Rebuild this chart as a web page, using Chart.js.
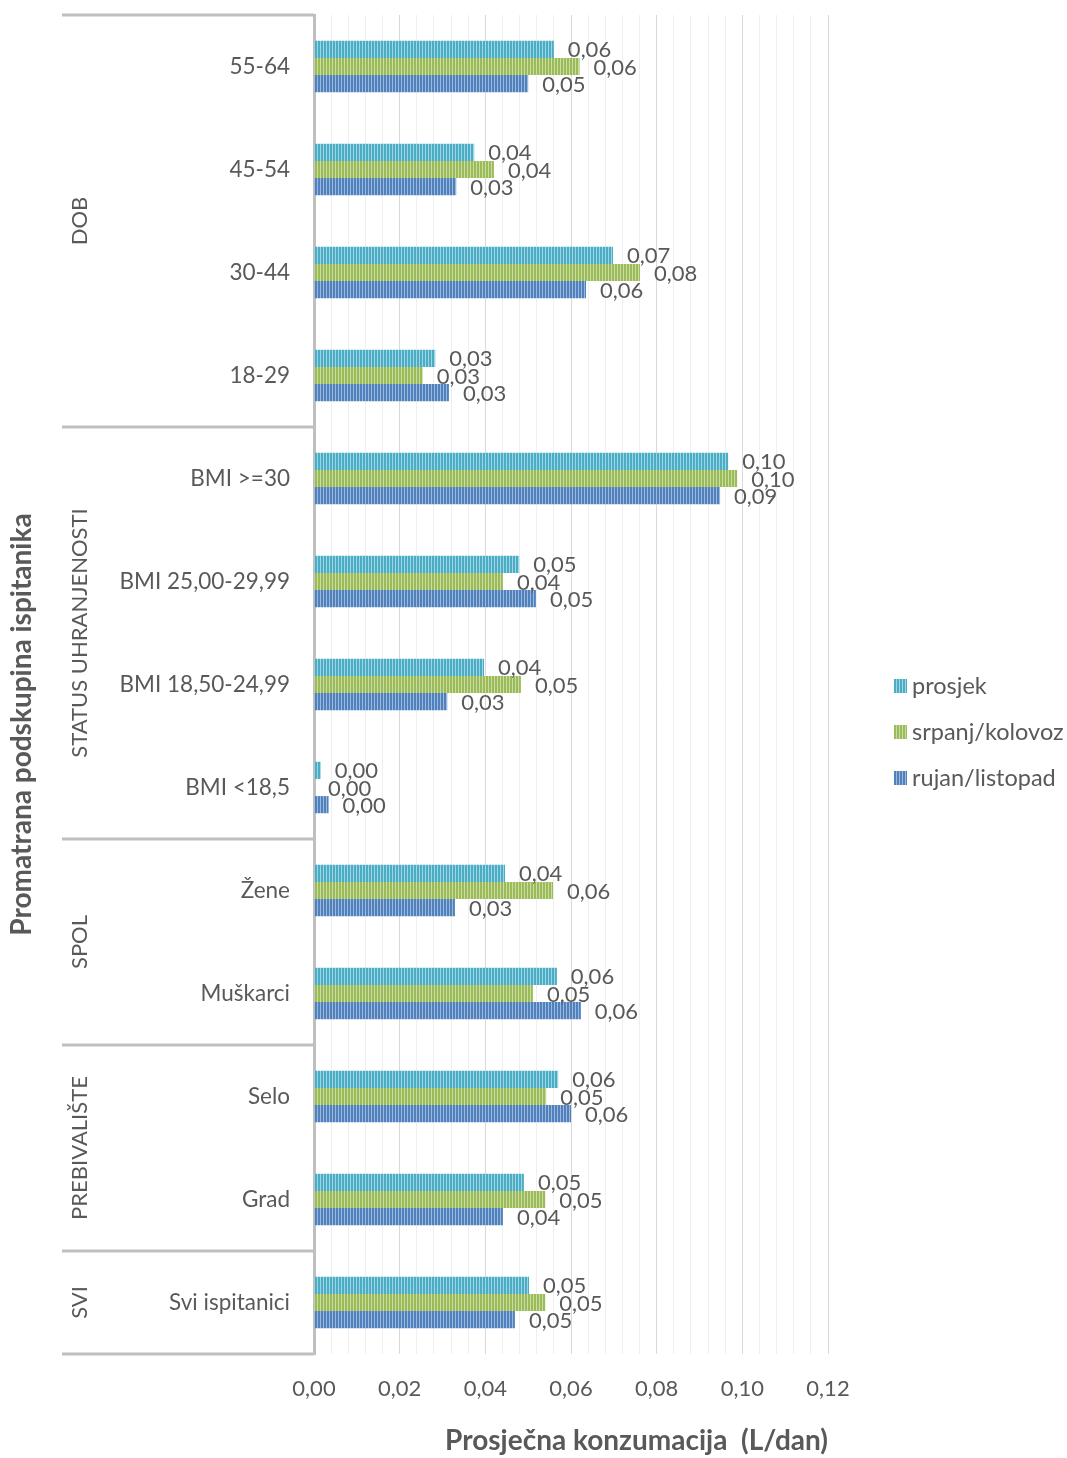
<!DOCTYPE html>
<html>
<head>
<meta charset="utf-8">
<script src="https://cdn.jsdelivr.net/npm/chart.js@4/dist/chart.umd.min.js"></script>
<style>
  body { margin: 0; background: #fff; }
  canvas { display: block; }
</style>
</head>
<body>
<canvas id="chart" width="1067" height="1458"></canvas>
<script>
const categories = ["55-64", "45-54", "30-44", "18-29", "BMI >=30", "BMI 25,00-29,99", "BMI 18,50-24,99", "BMI <18,5", "Žene", "Muškarci", "Selo", "Grad", "Svi ispitanici"];
const prosjek = [0.0560, 0.0374, 0.0698, 0.0283, 0.0967, 0.0479, 0.0397, 0.0016, 0.0446, 0.0567, 0.0570, 0.0490, 0.0502];
const srpanjKolovoz = [0.0620, 0.0420, 0.0761, 0.0254, 0.0988, 0.0441, 0.0483, 0.0000, 0.0558, 0.0511, 0.0542, 0.0540, 0.0540];
const rujanListopad = [0.0500, 0.0332, 0.0635, 0.0315, 0.0948, 0.0518, 0.0311, 0.0034, 0.0329, 0.0623, 0.0600, 0.0441, 0.0469];
const seriesNames = ["prosjek", "srpanj/kolovoz", "rujan/listopad"];
const groups = [
  { name: "DOB", from: 0, to: 3 },
  { name: "STATUS UHRANJENOSTI", from: 4, to: 7 },
  { name: "SPOL", from: 8, to: 9 },
  { name: "PREBIVALIŠTE", from: 10, to: 11 },
  { name: "SVI", from: 12, to: 12 }
];
const xTickStep = 0.004;

const FONT = "Lato, 'Open Sans', sans-serif";
const TEXT = "#595959";

// striped fill like the excel "vertical lines" pattern
function stripes(base, light) {
  const c = document.createElement("canvas");
  c.width = 3; c.height = 1;
  const g = c.getContext("2d");
  g.fillStyle = base; g.fillRect(0, 0, 3, 1);
  g.fillStyle = light; g.fillRect(2, 0, 1, 1);
  return g.createPattern(c, "repeat");
}
const fills = [
  stripes("#4bacc6", "#9fd6e4"),
  stripes("#9bbb59", "#c9dca3"),
  stripes("#4f81bd", "#9db8dc")
];

const fmt = v => v.toFixed(2).replace(".", ",");

const barLabels = {
  id: "barLabels",
  afterDatasetsDraw(chart) {
    const ctx = chart.ctx;
    ctx.save();
    ctx.font = "22px " + FONT;
    ctx.fillStyle = TEXT;
    ctx.textAlign = "left";
    ctx.textBaseline = "middle";
    chart.data.datasets.forEach((ds, i) => {
      chart.getDatasetMeta(i).data.forEach((bar, j) => {
        ctx.fillText(fmt(ds.data[j]), bar.x + 14, bar.y + 1);
      });
    });
    ctx.restore();
  }
};

const groupAxis = {
  id: "groupAxis",
  afterDraw(chart) {
    const ctx = chart.ctx;
    const y = chart.scales.y;
    const area = chart.chartArea;
    const edge = i => {
      if (i < 0) return area.top;
      if (i >= categories.length - 1) return area.bottom;
      return (y.getPixelForValue(i) + y.getPixelForValue(i + 1)) / 2;
    };
    ctx.save();
    ctx.strokeStyle = "#bfbfbf";
    ctx.lineWidth = 3;
    const cuts = [edge(-1)].concat(groups.map(g => edge(g.to)));
    cuts.forEach(p => {
      ctx.beginPath();
      ctx.moveTo(62, p);
      ctx.lineTo(area.left, p);
      ctx.stroke();
    });
    ctx.fillStyle = TEXT;
    ctx.textAlign = "center";
    ctx.textBaseline = "middle";
    ctx.font = "22px " + FONT;
    groups.forEach(g => {
      const mid = (edge(g.from - 1) + edge(g.to)) / 2;
      ctx.save();
      ctx.translate(80, mid);
      ctx.rotate(-Math.PI / 2);
      ctx.fillText(g.name, 0, 0);
      ctx.restore();
    });
    ctx.font = "bold 28px " + FONT;
    ctx.translate(22, (area.top + area.bottom) / 2 + 40);
    ctx.rotate(-Math.PI / 2);
    ctx.fillText("Promatrana podskupina ispitanika", 0, 0);
    ctx.restore();

    // legend
    ctx.save();
    ctx.font = "23.5px " + FONT;
    ctx.textBaseline = "middle";
    ctx.textAlign = "left";
    chart.data.datasets.forEach((ds, i) => {
      const ly = 686 + i * 46;
      ctx.fillStyle = ds.backgroundColor;
      ctx.fillRect(894, ly - 7, 13, 14);
      ctx.fillStyle = TEXT;
      ctx.fillText(ds.label, 912, ly);
    });
    ctx.restore();
  }
};

new Chart(document.getElementById("chart"), {
  type: "bar",
  data: {
    labels: categories,
    datasets: [
      { label: seriesNames[0], data: prosjek, backgroundColor: fills[0] },
      { label: seriesNames[1], data: srpanjKolovoz, backgroundColor: fills[1] },
      { label: seriesNames[2], data: rujanListopad, backgroundColor: fills[2] }
    ]
  },
  options: {
    indexAxis: "y",
    responsive: false,
    animation: false,
    categoryPercentage: 0.5,
    barPercentage: 1.0,
    layout: { padding: { top: 15, right: 239, bottom: 0, left: 0 } },
    plugins: {
      legend: { display: false },
      tooltip: { enabled: false }
    },
    scales: {
      x: {
        min: 0,
        max: 0.12,
        ticks: {
          stepSize: xTickStep,
          autoSkip: false,
          maxRotation: 0,
          padding: 22,
          color: TEXT,
          font: { family: FONT, size: 22 },
          callback: v => Math.round(v / xTickStep) % 5 === 0 ? fmt(v) : ""
        },
        grid: {
          drawTicks: false,
          lineWidth: 1,
          color: c => Math.round(c.tick.value / xTickStep) % 5 === 0 ? "#d9d9d9" : "#efefef"
        },
        border: { display: false },
        title: {
          display: true,
          text: "Prosječna konzumacija  (L/dan)",
          align: "end",
          color: TEXT,
          font: { family: FONT, size: 28, weight: "bold" },
          padding: { top: 0, bottom: 0 }
        }
      },
      y: {
        afterFit: s => { s.width = 314; s.paddingTop = 0; s.paddingBottom = 0; },
        grid: { display: false, drawTicks: false },
        border: { display: true, color: "#bfbfbf", width: 3 },
        ticks: {
          padding: 24,
          color: TEXT,
          font: { family: FONT, size: 22.5 }
        }
      }
    }
  },
  plugins: [barLabels, groupAxis]
});
</script>
</body>
</html>
